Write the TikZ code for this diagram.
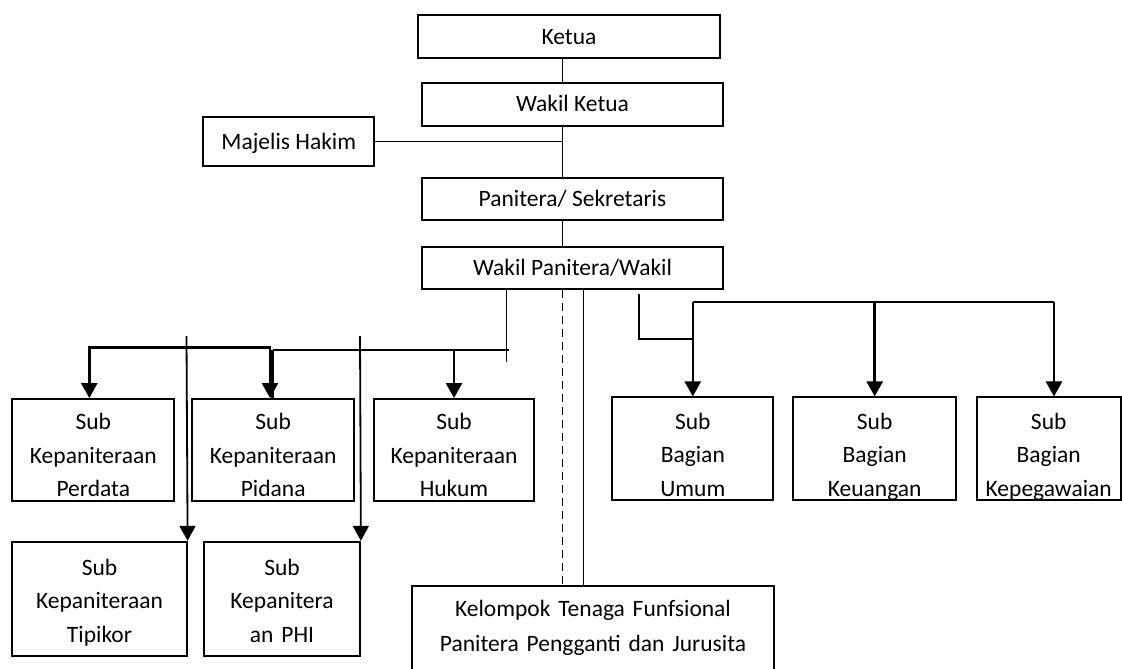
\documentclass[tikz,border=0pt]{standalone}
\usepackage{fontspec}
\setmainfont{Carlito}
\usetikzlibrary{arrows.meta}

\begin{document}
\begin{tikzpicture}[x=1pt, y=-1pt,
    box/.style={draw, line width=1.8pt, inner sep=0pt, font=\fontsize{23.5pt}{33.5pt}\selectfont, text height=15pt, text depth=0pt},
    sub/.style={draw, line width=1.8pt, inner sep=0pt, align=center, font=\fontsize{23.5pt}{33.5pt}\selectfont},
    edge/.style={line width=1.5pt},
    bus/.style={line width=2.6pt},
    tip/.style={-{Triangle[length=15pt, width=16pt]}},
    tips/.style={{Triangle[length=15pt, width=16pt]}-{Triangle[length=15pt, width=16pt]}}
  ]
    \useasboundingbox (0,0) rectangle (1122,669);

    \node[box, minimum width=302.3pt, minimum height=43.3pt] (ketua) at (569,36.7) {Ketua};
    \node[box, minimum width=301.6pt, minimum height=42.7pt] (wketua) at (572.5,104.3) {Wakil Ketua};
    \node[box, minimum width=171pt, minimum height=48.4pt] (majelis) at (288.8,141.5) {Majelis Hakim};
    \node[box, minimum width=301.6pt, minimum height=42.3pt] (panitera) at (572.5,198.8) {Panitera/ Sekretaris};
    \node[box, minimum width=301.6pt, minimum height=42.3pt] (wpanitera) at (572.5,267.8) {Wakil Panitera/Wakil};

    \node[sub, text width=162pt, text height=31pt, text depth=70.7pt] (perdata) at (93.3,449.8) {Sub\\Kepaniteraan\\Perdata};
    \node[sub, text width=161.7pt, text height=31pt, text depth=70.7pt] (pidana) at (273.2,449.8) {Sub\\Kepaniteraan\\Pidana};
    \node[sub, text width=160pt, text height=31pt, text depth=70.7pt] (hukum) at (454,449.8) {Sub\\Kepaniteraan\\Hukum};
    \node[sub, text width=174.4pt, text height=33.7pt, text depth=80.3pt] (tipikor) at (99.5,598.7) {Sub\\Kepaniteraan\\Tipikor};
    \node[sub, text width=156pt, text height=33.7pt, text depth=80.3pt] (phi) at (282,598.7) {Sub\\Kepanitera\\an PHI};
    \node[sub, text width=362.6pt, text height=30.5pt, text depth=83.5pt, font=\fontsize{23.5pt}{35pt}\selectfont] (kelompok) at (593,643) {Kelompok Tenaga Funfsional\\Panitera Pengganti dan Jurusita};
    \node[sub, text width=161pt, text height=31.7pt, text depth=71pt] (umum) at (692.8,448.7) {Sub\\Bagian\\Umum};
    \node[sub, text width=162.7pt, text height=31.7pt, text depth=71pt] (keuangan) at (874.7,448.7) {Sub\\Bagian\\Keuangan};
    \node[sub, text width=144pt, text height=31.7pt, text depth=71pt] (kepeg) at (1048.7,448.7) {Sub\\Bagian\\Kepegawaian};

    \coordinate (spine) at (562.7,0);
    \coordinate (solid) at (583.3,0);
    \coordinate (b1) at (89.3,347.3);
    \coordinate (b1r) at (270,347.3);
    \coordinate (b2) at (272.7,350);
    \coordinate (b2r) at (509.3,350);
    \coordinate (kp) at (506.7,361.7);
    \coordinate (t1) at (186.5,336);
    \coordinate (t2) at (360,336);
    \coordinate (kb) at (639,339);
    \coordinate (b3) at (0,302);
    \coordinate (pg) at (1054,0);

    \draw[edge] (ketua.south -| spine) -- (wketua.north -| spine);
    \draw[edge] (wketua.south -| spine) -- (panitera.north -| spine);
    \draw[edge] (panitera.south -| spine) -- (wpanitera.north -| spine);
    \draw[edge] (majelis.east) -- (majelis.east -| spine);

    \draw[edge] (wpanitera.south -| kp) -- (kp);
    \draw[edge] (hukum.north |- b2) -- (b2r);
    \draw[bus] (b2) -- (hukum.north |- b2);
    \draw[bus, tip] (hukum.north |- b2) -- (hukum.north);
    \draw[bus] (b2) -- (b2 |- pidana.north);
    \draw[bus, tips] (b1 |- perdata.north) -- (b1) -- (b1r) -- (b1r |- pidana.north);
    \draw[edge, line width=1.8pt, tip] (t1) -- (tipikor.north east);
    \draw[edge, line width=1.8pt, tip] (t2) -- (phi.north east);

    \draw[edge, dash pattern=on 8pt off 5pt] (wpanitera.south -| spine) -- (kelompok.north -| spine);
    \draw[edge] (wpanitera.south -| solid) -- (kelompok.north -| solid);

    \draw[edge] ([yshift=-3.7pt]wpanitera.south -| kb) -- (kb) -- (kb -| umum.north);
    \draw[bus] (umum.north |- b3) -- (pg |- b3);
    \draw[bus, tip] (umum.north |- b3) -- (umum.north);
    \draw[bus, tip] (keuangan.north |- b3) -- (keuangan.north);
    \draw[bus, tip] (pg |- b3) -- (pg |- kepeg.north);
  \end{tikzpicture}
\end{document}
